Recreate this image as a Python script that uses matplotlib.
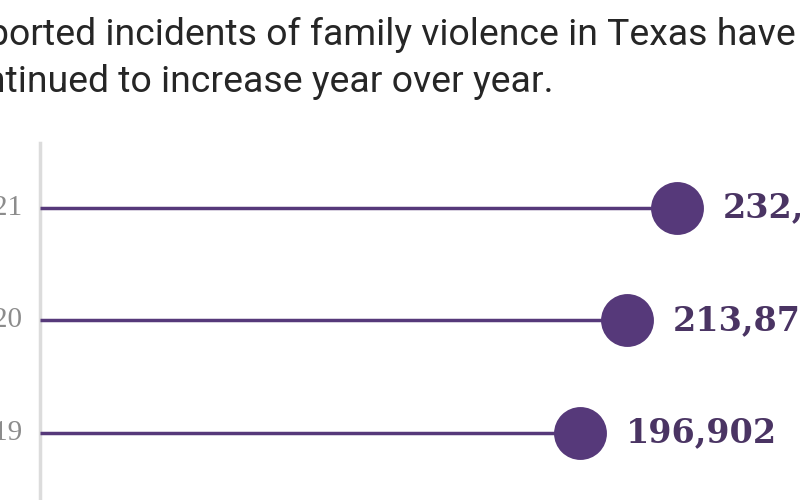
import matplotlib
matplotlib.use("Agg")
import matplotlib.pyplot as plt

years = ["2019", "2020", "2021"]
incidents = [196902, 213875, 232180]
value_labels = ["196,902", "213,875", "232,180"]
title_lines = ["Reported incidents of family violence in Texas have",
               "continued to increase year over year."]

purple = "#56397a"
fig = plt.figure(figsize=(8, 5), dpi=100)
ax = fig.add_axes([0, 0, 1, 1])

ypos = list(range(len(years)))
# gray axis line on the left
ax.plot([0, 0], [-0.7, 2.58], color="#dcdcdc", lw=2.5, zorder=1)
for y, v in zip(ypos, incidents):
    ax.plot([0, v], [y, y], color=purple, lw=2.5, solid_capstyle="butt", zorder=2)
ax.scatter(incidents, ypos, s=1450, color=purple, zorder=3, linewidths=0)

for y, v, lab in zip(ypos, incidents, value_labels):
    ax.text(v + 16800, y, lab, va="center", ha="left", fontsize=24,
            family="DejaVu Serif", fontweight="bold", color="#4a3463")
for y, yr in zip(ypos, years):
    ax.text(-6300, y, yr, va="center", ha="right", fontsize=21,
            family="Liberation Serif", color="#8c8c8c")

ax.set_xlim(-14585, 277120)
ax.set_ylim(-0.596, 3.849)
ax.axis("off")

fig.text(796 / 800, 1 - 45 / 500, title_lines[0], ha="right", va="baseline",
         fontsize=26.9, family=["Roboto", "DejaVu Sans"], color="#262626")
fig.text(553 / 800, 1 - 92 / 500, title_lines[1], ha="right", va="baseline",
         fontsize=26.9, family=["Roboto", "DejaVu Sans"], color="#262626")

fig.savefig("out.png", dpi=100, facecolor="white")
